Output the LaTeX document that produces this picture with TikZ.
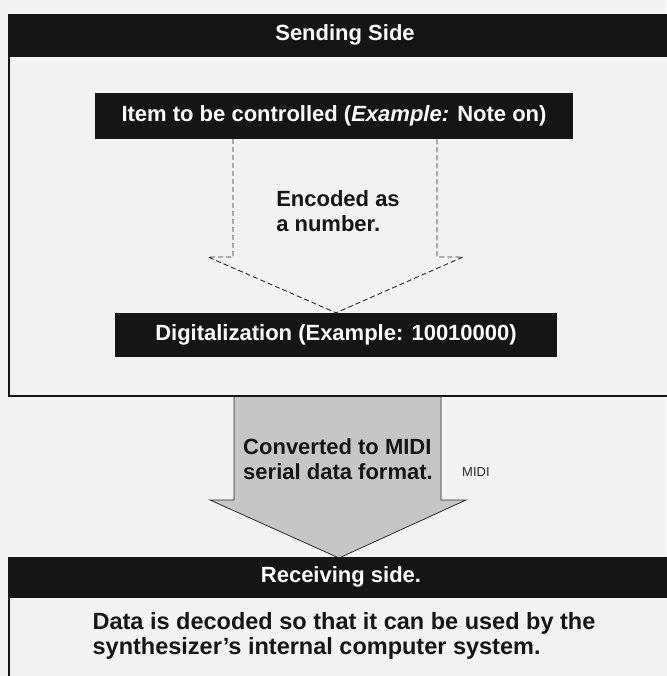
\documentclass[tikz,border=0pt]{standalone}
\usepackage{fontspec}
\setmainfont{Liberation Sans}
\definecolor{bg}{HTML}{F3F3F3}
\definecolor{ink}{HTML}{151515}
\definecolor{arrowgray}{HTML}{C6C6C6}
\definecolor{dashgray}{HTML}{2A2A2A}
\begin{document}
\begin{tikzpicture}[x=1pt,y=-1pt,
  frame/.style={draw=ink, line width=2.4pt, fill=bg, anchor=north west, inner sep=0pt},
  headbar/.style={fill=ink, anchor=north west, inner sep=0pt},
  blackbox/.style={fill=ink, text=white, inner sep=0pt, font=\fontsize{22}{26}\selectfont\bfseries},
  headtext/.style={text=white, inner sep=0pt, font=\fontsize{22}{25}\selectfont\bfseries},
  bodytext/.style={text=ink, inner sep=0pt, align=left, font=\fontsize{22}{25}\selectfont\bfseries},
  smalltext/.style={text=dashgray, inner sep=0pt, font=\fontsize{13}{15}\selectfont},
  dashedarrow/.style={draw=dashgray, line width=0.9pt, dash pattern=on 5pt off 3pt, line join=miter},
  grayarrow/.style={draw=dashgray, line width=0.8pt, fill=arrowgray, line join=miter}
]
\useasboundingbox (0,0) rectangle (666,676);
\fill[bg] (0,0) rectangle (666,676);

% gray block arrow between the two frames
\draw[grayarrow] (234,395) -- (234,500) -- (210,500) -- (339,558) -- (466,500) -- (441,500) -- (441,395);

% sending side frame
\node[frame, minimum width=664pt, minimum height=381pt] (sendframe) at (8,14) {};
\node[headbar, minimum width=664pt, minimum height=43pt] (sendhead) at (8,14) {};
\node[headtext] (sendlabel) at (345,35) {Sending Side};

% item box
\node[blackbox, minimum width=478pt, minimum height=46pt] (item) at (334,116)
  {Item to be controlled (\textit{Example:} Note on)};

% digitalization box
\node[blackbox, minimum width=442pt, minimum height=44pt] (digit) at (336,335)
  {Digitalization (Example: 10010000)};

% dashed block arrow from item to digit
\draw[dashedarrow] (233,139) -- (233,257) -- (208,257) -- (digit.north) -- (463,257) -- (437,257) -- (437,139);
\node[bodytext] (encoded) at (338,211) {Encoded as\\ a number.};

% converted text
\node[bodytext] (converted) at (338,459) {Converted to MIDI\\serial data format.};
\node[smalltext, anchor=west] (midi) at (462,472) {MIDI};

% receiving side frame
\node[frame, minimum width=664pt, minimum height=140pt] (recvframe) at (8,557) {};
\node[headbar, minimum width=664pt, minimum height=41pt] (recvhead) at (8,557) {};
\node[headtext] (recvlabel) at (341,577) {Receiving side.};
\node[bodytext, font=\fontsize{23.5}{25}\selectfont\bfseries] (decoded) at (344,636)
  {Data is decoded so that it can be used by the\\synthesizer's internal computer system.};
\end{tikzpicture}
\end{document}
